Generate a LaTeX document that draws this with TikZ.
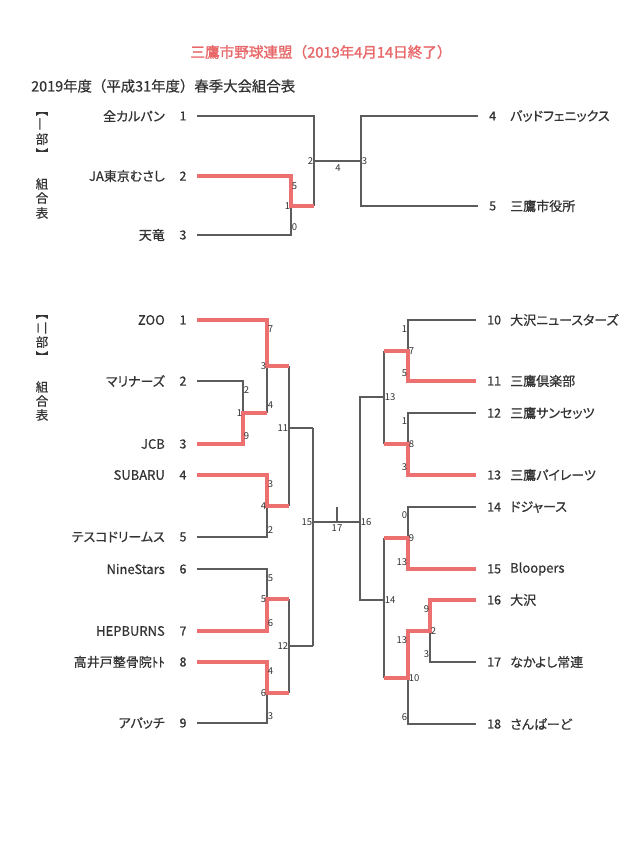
\documentclass[tikz,border=0pt]{standalone}
\usepackage{fontspec}
\newfontfamily\jp[CharacterWidth=AlternateProportional,FakeBold=0.6]{Noto Sans CJK JP}
\newfontfamily\jpn[FakeBold=0.6]{Noto Sans CJK JP}
\newfontfamily\jpf{Noto Sans CJK JP}
\newfontfamily\jpb[FakeBold=1.6]{Noto Sans CJK JP}
\definecolor{lgray}{HTML}{5C5C5C}
\definecolor{lred}{HTML}{EC7070}
\definecolor{txt}{HTML}{333333}
\definecolor{ttl}{HTML}{E8686A}
\newcommand\lb[4]{\node[lab,anchor=#2] (#1) at (#3) {#4};}
\begin{document}
\begin{tikzpicture}[x=1pt,y=-1pt,
  gl/.style={draw=lgray,line width=1.1pt},
  rl/.style={draw=lred,line width=3.3pt},
  lab/.style={font=\jpf\fontsize{9.5}{10}\selectfont,text=txt,inner sep=0.6pt},
  nm/.style={font=\jp\fontsize{13}{14}\selectfont,text=txt,inner sep=0pt},
  num/.style={font=\jpn\fontsize{12.5}{13}\selectfont,text=txt,inner sep=0pt},
  side/.style={font=\jpn\fontsize{12.5}{13}\selectfont,text=txt,inner sep=0pt}]
\useasboundingbox (0,0) rectangle (639,863);
\fill[white] (0,0) rectangle (639,863);

% titles
\node[font=\jpb\fontsize{14.6}{15}\selectfont,text=ttl,inner sep=0pt] (title) at (321,52) {三鷹市野球連盟（2019年4月14日終了）};
\node[font=\jpn\fontsize{14.4}{15}\selectfont,text=txt,inner sep=0pt,anchor=west] (subtitle) at (31,86) {2019年度（平成31年度）春季大会組合表};

% side labels, section 1
\node[side,rotate=-90] (s1a) at (42,110) {【};
\node[side,rotate=90] (s1b) at (42,124) {一};
\node[side] (s1c) at (42,139) {部};
\node[side,rotate=-90] (s1d) at (42,154) {】};
\node[side] (s1e) at (42,184) {組};
\node[side] (s1f) at (42,198) {合};
\node[side] (s1g) at (42,213) {表};
% side labels, section 2
\node[side,rotate=-90] (s2a) at (42,313) {【};
\node[side,rotate=90] (s2b) at (42,328) {二};
\node[side] (s2c) at (42,342) {部};
\node[side,rotate=-90] (s2d) at (42,357) {】};
\node[side] (s2e) at (42,387) {組};
\node[side] (s2f) at (42,401) {合};
\node[side] (s2g) at (42,415) {表};

% ---------------- section 1 ----------------
\node[nm,anchor=east] (n1) at (165,116) {全カルパン};
\node[num] (u1) at (183,116) {1};
\node[nm,anchor=east] (n2) at (165,176) {JA東京むさし};
\node[num] (u2) at (183,176) {2};
\node[nm,anchor=east] (n3) at (165,235) {天竜};
\node[num] (u3) at (183,235) {3};
\node[num,anchor=west] (u4) at (489,116) {4};
\node[nm,anchor=west] (n4) at (510,116) {バッドフェニックス};
\node[num,anchor=west] (u5) at (489,206) {5};
\node[nm,anchor=west] (n5) at (510,206) {三鷹市役所};

\coordinate (A1) at (197,116);
\coordinate (A2) at (197,176);
\coordinate (A3) at (197,235);
\coordinate (q1) at (291,206);
\coordinate (q1r) at (314,206);
\coordinate (s1) at (314,161);
\coordinate (s2) at (361,161);
\coordinate (e4) at (478,116);
\coordinate (e5) at (478,206);

\draw[gl] (A1) -| (q1r);
\draw[gl] (A3) -| (q1);
\draw[gl] (s1) -- (s2);
\draw[gl] (e4) -| (s2) |- (e5);
\draw[rl] (A2) -| (q1) -- (q1r);

\lb{a1}{east}{314,161}{2}
\lb{a2}{north}{338,164}{4}
\lb{a3}{west}{361,161}{3}
\lb{a4}{west}{291,186}{5}
\lb{a5}{east}{291,206}{1}
\lb{a6}{west}{291,227}{0}

% ---------------- section 2, left ----------------
\node[nm,anchor=east] (m1) at (165,320) {ZOO};
\node[num] (v1) at (183,320) {1};
\node[nm,anchor=east] (m2) at (165,381) {マリナーズ};
\node[num] (v2) at (183,381) {2};
\node[nm,anchor=east] (m3) at (165,444) {JCB};
\node[num] (v3) at (183,444) {3};
\node[nm,anchor=east] (m4) at (165,475) {SUBARU};
\node[num] (v4) at (183,475) {4};
\node[nm,anchor=east] (m5) at (165,537) {テスコドリームス};
\node[num] (v5) at (183,537) {5};
\node[nm,anchor=east] (m6) at (165,569) {NineStars};
\node[num] (v6) at (183,569) {6};
\node[nm,anchor=east] (m7) at (165,631) {HEPBURNS};
\node[num] (v7) at (183,631) {7};
\node[nm,anchor=east] (m8) at (165,662) {高井戸整骨院ﾄﾄ};
\node[num] (v8) at (183,662) {8};
\node[nm,anchor=east] (m9) at (165,723) {アパッチ};
\node[num] (v9) at (183,723) {9};

\coordinate (L1) at (197,320);
\coordinate (L2) at (197,381);
\coordinate (L3) at (197,444);
\coordinate (L4) at (197,475);
\coordinate (L5) at (197,537);
\coordinate (L6) at (197,569);
\coordinate (L7) at (197,631);
\coordinate (L8) at (197,662);
\coordinate (L9) at (197,723);
\coordinate (j23) at (243,413);
\coordinate (j1) at (267,366);
\coordinate (j23b) at (267,413);
\coordinate (k1) at (289,366);
\coordinate (j45) at (267,506);
\coordinate (k45) at (289,506);
\coordinate (j67) at (267,599);
\coordinate (k67) at (289,599);
\coordinate (j89) at (267,693);
\coordinate (k89) at (289,693);
\coordinate (g11) at (289,428);
\coordinate (g11r) at (313,428);
\coordinate (g12) at (289,646);
\coordinate (g12r) at (313,646);
\coordinate (fl) at (313,522);
\coordinate (fr) at (360,522);
\coordinate (ft) at (337,507);

\draw[gl] (L2) -| (j23);
\draw[gl] (j23b) -- (j1);
\draw[gl] (k1) -- (k45);
\draw[gl] (g11) -- (g11r);
\draw[gl] (L5) -| (j45);
\draw[gl] (L6) -| (j67);
\draw[gl] (L9) -| (j89);
\draw[gl] (k67) -- (k89);
\draw[gl] (g12) -- (g12r);
\draw[gl] (g11r) -- (g12r);
\draw[gl] (fl) -- (fr);
\draw[gl] (ft) -- (ft |- fl);

\draw[rl] (L1) -| (j1) -- (k1);
\draw[rl] (L3) -| (j23) -- (j23b);
\draw[rl] (L4) -| (j45) -- (k45);
\draw[rl] (L7) -| (j67) -- (k67);
\draw[rl] (L8) -| (j89) -- (k89);

\lb{b1}{west}{267,329}{7}
\lb{b2}{east}{267,366}{3}
\lb{b3}{west}{243,390}{2}
\lb{b4}{east}{243,413}{1}
\lb{b5}{west}{243,436}{9}
\lb{b6}{west}{267,405}{4}
\lb{b7}{east}{289,428}{11}
\lb{b8}{west}{267,484}{3}
\lb{b9}{east}{267,506}{4}
\lb{b10}{west}{267,530}{2}
\lb{b11}{east}{313,522}{15}
\lb{b12}{north}{337,524}{17}
\lb{b13}{west}{360,522}{16}
\lb{b14}{west}{267,578}{5}
\lb{b15}{east}{267,599}{5}
\lb{b16}{west}{267,623}{6}
\lb{b17}{east}{289,646}{12}
\lb{b18}{west}{267,671}{4}
\lb{b19}{east}{267,693}{6}
\lb{b20}{west}{267,716}{3}

% ---------------- section 2, right ----------------
\node[num,anchor=west] (w10) at (487,320) {10};
\node[nm,anchor=west] (r10) at (510,320) {大沢ニュースターズ};
\node[num,anchor=west] (w11) at (487,381) {11};
\node[nm,anchor=west] (r11) at (510,381) {三鷹倶楽部};
\node[num,anchor=west] (w12) at (487,413) {12};
\node[nm,anchor=west] (r12) at (510,413) {三鷹サンセッツ};
\node[num,anchor=west] (w13) at (487,475) {13};
\node[nm,anchor=west] (r13) at (510,475) {三鷹パイレーツ};
\node[num,anchor=west] (w14) at (487,507) {14};
\node[nm,anchor=west] (r14) at (510,507) {ドジャース};
\node[num,anchor=west] (w15) at (487,569) {15};
\node[nm,anchor=west] (r15) at (510,569) {Bloopers};
\node[num,anchor=west] (w16) at (487,600) {16};
\node[nm,anchor=west] (r16) at (510,600) {大沢};
\node[num,anchor=west] (w17) at (487,662) {17};
\node[nm,anchor=west] (r17) at (510,662) {なかよし常連};
\node[num,anchor=west] (w18) at (487,724) {18};
\node[nm,anchor=west] (r18) at (510,724) {さんぱーど};

\coordinate (R10) at (476,320);
\coordinate (R11) at (476,381);
\coordinate (R12) at (476,413);
\coordinate (R13) at (476,475);
\coordinate (R14) at (476,507);
\coordinate (R15) at (476,569);
\coordinate (R16) at (476,600);
\coordinate (R17) at (476,662);
\coordinate (R18) at (476,724);
\coordinate (i1011) at (408,351);
\coordinate (o1011) at (384,351);
\coordinate (i1213) at (408,444);
\coordinate (o1213) at (384,444);
\coordinate (h13) at (384,397);
\coordinate (i1415) at (408,538);
\coordinate (o1415) at (384,538);
\coordinate (i1617) at (430,631);
\coordinate (i18) at (408,678);
\coordinate (o18) at (384,678);
\coordinate (h14) at (384,600);

\draw[gl] (R10) -| (i1011);
\draw[gl] (R12) -| (i1213);
\draw[gl] (o1011) -- (o1213);
\draw[gl] (h13) -| (fr) |- (h14);
\draw[gl] (R14) -| (i1415);
\draw[gl] (R17) -| (i1617);
\draw[gl] (R18) -| (i18);
\draw[gl] (o1415) -- (o18);

\draw[rl] (R11) -| (i1011) -- (o1011);
\draw[rl] (R13) -| (i1213) -- (o1213);
\draw[rl] (R15) -| (i1415) -- (o1415);
\draw[rl] (R16) -| (i1617) -| (i18) -- (o18);

\lb{c1}{east}{408,329}{1}
\lb{c2}{west}{408,351}{7}
\lb{c3}{east}{408,373}{5}
\lb{c4}{west}{384,397}{13}
\lb{c5}{east}{408,421}{1}
\lb{c6}{west}{408,444}{8}
\lb{c7}{east}{408,467}{3}
\lb{c8}{east}{408,515}{0}
\lb{c9}{west}{408,538}{9}
\lb{c10}{east}{408,562}{13}
\lb{c11}{west}{384,600}{14}
\lb{c12}{east}{430,609}{9}
\lb{c13}{west}{430,631}{2}
\lb{c14}{east}{430,654}{3}
\lb{c15}{east}{408,640}{13}
\lb{c16}{west}{408,678}{10}
\lb{c17}{east}{408,717}{6}
\end{tikzpicture}
\end{document}
